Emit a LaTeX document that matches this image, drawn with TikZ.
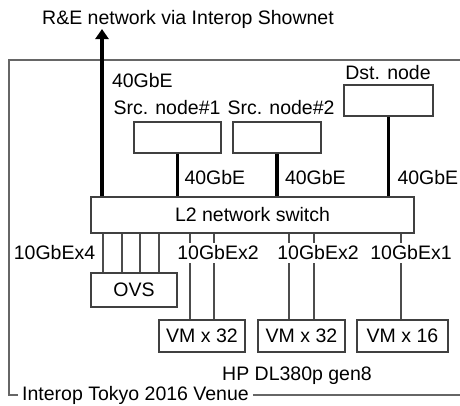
\documentclass[tikz,border=0pt]{standalone}
\usepackage{fontspec}
\setmainfont{Liberation Sans}
\usepackage{tikz}
\usetikzlibrary{arrows.meta}

\begin{document}
\begin{tikzpicture}[x=1pt,y=-1pt,
  every node/.style={font=\fontsize{19.5}{23}\selectfont},
  box/.style={draw=black!75,line width=1.1pt,inner sep=0pt,minimum height=31},
  lbl/.style={fill=white,inner xsep=2pt,inner ysep=3pt},
  fat/.style={line width=3.4pt},
  thinlink/.style={draw=black!70,line width=1.1pt},
  frame/.style={draw=black!60,line width=1.1pt}]
\useasboundingbox (0,0) rectangle (460,405);
% Title and uplink end
\node (shownet) at (188,19) {R\&E network via Interop Shownet};
\coordinate (up) at (102,29);
% Venue frame
\node[anchor=west,inner xsep=4pt] (venue) at (18,395) {Interop Tokyo 2016 Venue};
\draw[frame] (venue.west) -- (9,395) -- (9,60) -- (460,60);
\draw[frame] (venue.east) -- (460,395);
% Src/Dst nodes
\node[box,minimum width=87] (src1) at (177.5,137.5) {};
\node[box,minimum width=88] (src2) at (277,137.5) {};
\node[box,minimum width=89] (dst) at (388.5,100.5) {};
\node (src1lbl) at (167,108) {Src. node\#1};
\node (src2lbl) at (281,108) {Src. node\#2};
\node (dstlbl) at (388,73) {Dst. node};
% Switch
\node[box,minimum width=323,minimum height=36] (sw) at (252.5,215) {L2 network switch};
% OVS and VMs
\node[box,minimum width=86,minimum height=34] (ovs) at (134,290) {OVS};
\node[box,minimum width=86,minimum height=32] (vm1) at (202,336) {VM x 32};
\node[box,minimum width=87,minimum height=32] (vm2) at (301.5,336) {VM x 32};
\node[box,minimum width=91,minimum height=32] (vm3) at (402.5,336) {VM x 16};
\node (hp) at (297,375.5) {HP DL380p gen8};
% 40GbE links
\draw[fat,-{Triangle[length=10pt,width=13pt]}] (up |- sw.north) -- (up)
  node[pos=.69,anchor=west,xshift=5pt] (g40up) {40GbE};
\draw[fat] (src1) -- (src1 |- sw.north)
  node[pos=.57,anchor=west,xshift=2pt] (g40a) {40GbE};
\draw[fat] (src2) -- (src2 |- sw.north)
  node[pos=.57,anchor=west,xshift=3pt] (g40b) {40GbE};
\draw[fat] (dst) -- (dst |- sw.north)
  node[pos=.765,anchor=west,xshift=4pt] (g40c) {40GbE};
% 10GbE links
\foreach \x in {103,122,140,159}
  \draw[thinlink] (\x,0 |- sw.south) -- (\x,0 |- ovs.north);
\foreach \x/\vm in {190/vm1,214/vm1,289/vm2,314/vm2,401/vm3}
  \draw[thinlink] (\x,0 |- sw.south) -- (\x,0 |- \vm.north);
\node[lbl] (g10ovs) at (54.5,253) {10GbEx4};
\node[lbl] (g10a) at (218,253) {10GbEx2};
\node[lbl] (g10b) at (318,253) {10GbEx2};
\node[lbl] (g10c) at (411,253) {10GbEx1};
\end{tikzpicture}
\end{document}
